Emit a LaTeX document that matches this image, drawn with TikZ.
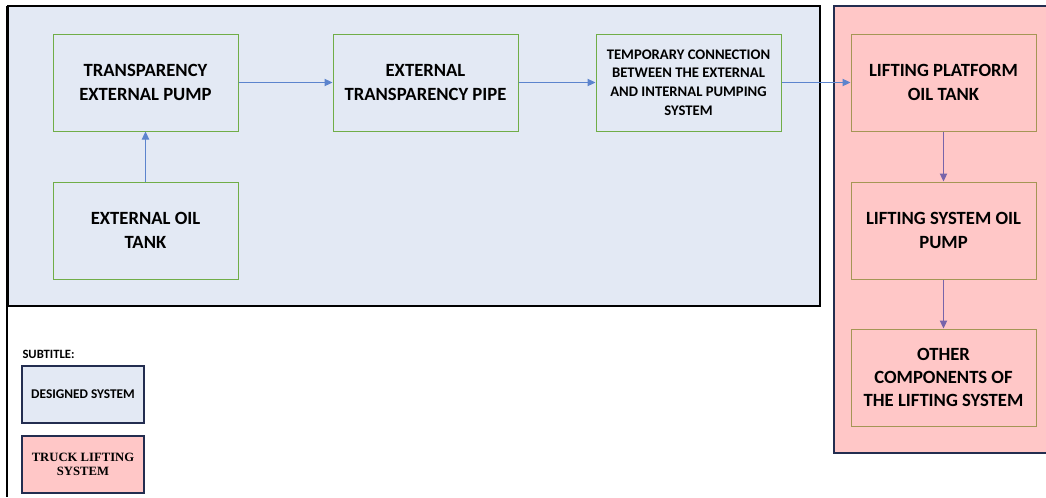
\documentclass[tikz,border=0pt]{standalone}
\usepackage{fontspec}
\setmainfont{Carlito}
\newfontfamily\legendserif{Liberation Serif}
\usepackage{xcolor}
\usetikzlibrary{arrows.meta,positioning}

\definecolor{designblue}{RGB}{227,233,244}
\definecolor{truckpink}{RGB}{255,199,199}
\definecolor{boxgreen}{RGB}{112,173,71}
\definecolor{boxolive}{RGB}{165,150,85}
\definecolor{flowblue}{RGB}{92,132,205}
\definecolor{flowpurple}{RGB}{120,100,170}
\definecolor{framenavy}{RGB}{35,45,80}

\begin{document}
\begin{tikzpicture}[x=0.75pt,y=-0.75pt,>={Triangle[length=6pt,width=5.5pt]},
                    line width=0.75pt,
                    design box/.style={rectangle,draw=boxgreen,fill=designblue,minimum width=138.75pt,
                      minimum height=72.75pt,inner sep=0pt,align=center,font=\bfseries\fontsize{14}{17.5}\selectfont},
                    truck box/.style={design box,draw=boxolive,fill=truckpink},
                    legend box/.style={rectangle,draw=framenavy,line width=1.1pt,minimum width=91.5pt,
                      minimum height=42.75pt,inner sep=0pt,align=center,font=\bfseries\fontsize{10}{12}\selectfont},
                    blue flow/.style={->,draw=flowblue},
                    purple flow/.style={->,draw=flowpurple}]

  \useasboundingbox (0,0) rectangle (1046,497);

  % system areas
  \fill[designblue] (8,6) rectangle (820,306);
  \draw[black,line width=1.1pt] (820,6) -- (8,6) -- (8,306) -- (820,306) -- cycle;
  \fill[truckpink] (834,6) rectangle (1052,453);
  \draw[framenavy,line width=1.1pt] (1052,6) -- (834,6) -- (834,453) -- (1052,453);
  \draw[black,line width=1.1pt] (7,6) -- (7,497);

  % designed system
  \node[design box] (pump) at (145.5,82.5) {TRANSPARENCY\\EXTERNAL PUMP};
  \node[design box] (tank) [below=37.5pt of pump] {EXTERNAL OIL\\TANK};
  \node[design box] (pipe) [right=70.5pt of pump] {EXTERNAL\\TRANSPARENCY PIPE};
  \node[design box,font=\bfseries\fontsize{11}{14}\selectfont] (link) [right=57.75pt of pipe]
    {TEMPORARY CONNECTION\\BETWEEN THE EXTERNAL\\AND INTERNAL PUMPING\\SYSTEM};

  % truck lifting system
  \node[truck box] (platform) [right=51.75pt of link] {LIFTING PLATFORM\\OIL TANK};
  \node[truck box] (liftpump) [below=37.5pt of platform] {LIFTING SYSTEM OIL\\PUMP};
  \node[truck box] (others) [below=36.75pt of liftpump] {OTHER\\COMPONENTS OF\\THE LIFTING SYSTEM};

  \path
    (tank) edge [blue flow] (pump)
    (pump) edge [blue flow] (pipe)
    (pipe) edge [blue flow] (link)
    (link) edge [blue flow] (platform)
    (platform) edge [purple flow] (liftpump)
    (liftpump) edge [purple flow] (others);

  % legend
  \node[anchor=base west,inner sep=0pt,font=\bfseries\fontsize{9.5}{11}\selectfont] (subtitle) at (22,358) {SUBTITLE:};
  \node[legend box,fill=designblue] (legdesign) at (83,394.5) {DESIGNED SYSTEM};
  \node[legend box,fill=truckpink,font=\legendserif\bfseries\fontsize{9.5}{10}\selectfont] (legtruck) at (83,464.5)
    {TRUCK LIFTING\\SYSTEM};
\end{tikzpicture}
\end{document}
